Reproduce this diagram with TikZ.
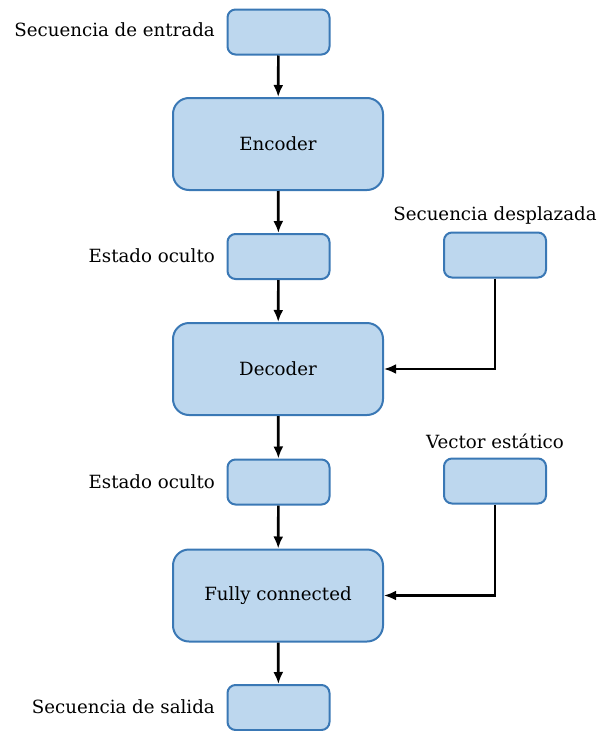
\documentclass[tikz,border=0pt]{standalone}
\usepackage{fontspec}
\setmainfont{DejaVu Serif}
\usetikzlibrary{arrows.meta}
\definecolor{boxfill}{HTML}{BDD7EE}
\definecolor{boxline}{HTML}{3A78B5}
\begin{document}
\begin{tikzpicture}[x=1pt,y=-1pt,
  smallbox/.style={draw=boxline, fill=boxfill, line width=2pt, rounded corners=8pt,
    minimum width=102pt, minimum height=45pt, inner sep=0pt},
  bigbox/.style={draw=boxline, fill=boxfill, line width=2pt, rounded corners=16pt,
    minimum width=210pt, minimum height=92pt, inner sep=0pt, font=\fontsize{18.2}{21}\selectfont},
  lbl/.style={font=\fontsize{18.2}{21}\selectfont, inner sep=0pt},
  flow/.style={line width=2.7pt, -{Latex[length=12pt,width=10pt]}}]
\useasboundingbox (0,0) rectangle (600,731);

% main column
\node[smallbox] (in)   at (278.5,32)  {};
\node[bigbox]   (enc)  at (278,144)   {Encoder};
\node[smallbox] (h1)   at (278.5,256.5) {};
\node[bigbox]   (dec)  at (278,369)   {Decoder};
\node[smallbox] (h2)   at (278.5,482) {};
\node[bigbox]   (fc)   at (278,595.5) {Fully connected};
\node[smallbox] (out)  at (278.5,707.5) {};

% side inputs
\node[smallbox] (shift) at (495,255) {};
\node[smallbox] (vec)   at (495,481) {};

% labels
\node[lbl, anchor=east] (lin)  at (215,30)  {Secuencia de entrada};
\node[lbl, anchor=east] (lh1)  at (215,256) {Estado oculto};
\node[lbl, anchor=east] (lh2)  at (215,482) {Estado oculto};
\node[lbl, anchor=east] (lout) at (215,707) {Secuencia de salida};
\node[lbl] (lshift) at (495,215) {Secuencia desplazada};
\node[lbl] (lvec)   at (495,441) {Vector estático};

% connectors
\draw[flow] (in)  -- (enc);
\draw[flow] (enc) -- (h1);
\draw[flow] (h1)  -- (dec);
\draw[flow] (dec) -- (h2);
\draw[flow] (h2)  -- (fc);
\draw[flow] (fc)  -- (out);
\draw[flow] (shift.south) |- (dec.east);
\draw[flow] (vec.south) |- (fc.east);
\end{tikzpicture}
\end{document}
